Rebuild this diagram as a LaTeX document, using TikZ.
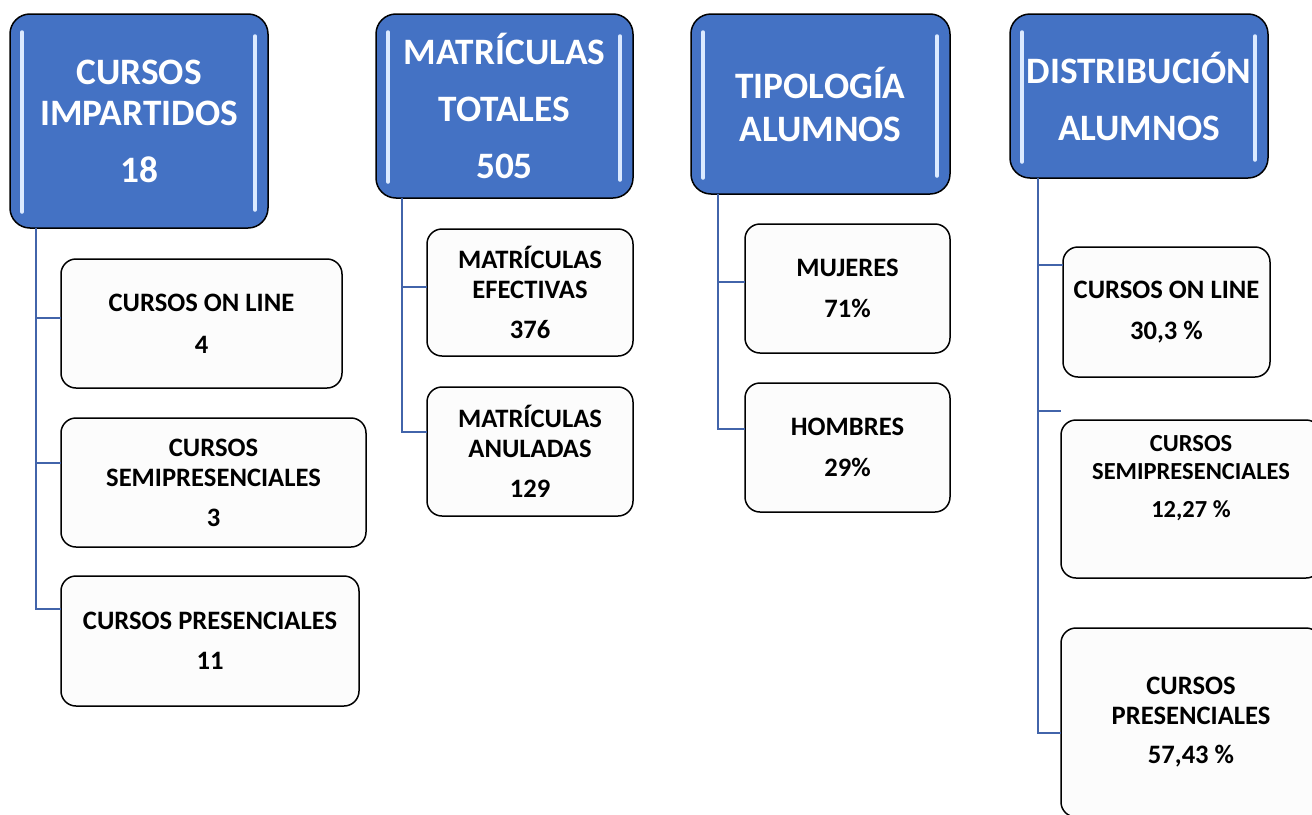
\documentclass[tikz,border=0pt]{standalone}
\usepackage{fontspec}
\setmainfont{Carlito}
\definecolor{hdrblue}{RGB}{68,114,196}
\definecolor{linkblue}{RGB}{66,100,170}
\definecolor{boxfill}{RGB}{252,252,252}
\definecolor{glintblue}{RGB}{220,234,255}
\begin{document}
\begin{tikzpicture}[x=1pt,y=-1pt,
    hdrbox/.style={draw=black, line width=1.5pt, rounded corners=20pt, fill=hdrblue, text=white,
      inner sep=0pt, outer sep=0pt, align=center, font=\fontsize{37.3}{41}\selectfont\bfseries},
    itembox/.style={draw=black, line width=1.5pt, rounded corners=15pt, fill=boxfill,
      inner sep=0pt, outer sep=0pt, align=center, font=\fontsize{26.6}{30}\selectfont\bfseries},
    link/.style={draw=linkblue, line width=2pt},
    glint/.style={draw=glintblue, line width=3.5pt, line cap=round}]
    \clip (0,0) rectangle (1312,814);
    \fill[white] (0,0) rectangle (1312,814);

    % cabeceras
    \node[hdrbox, minimum width=258pt, minimum height=214pt] (cursos) at (139,121) {CURSOS\\IMPARTIDOS\\[16pt]18};
    \node[hdrbox, minimum width=257pt, minimum height=184pt] (matric) at (504.5,106) {MATRÍCULAS\\[16pt]TOTALES\\[16pt]505};
    \node[hdrbox, minimum width=259pt, minimum height=180pt] (tipo) at (820.5,104) {TIPOLOGÍA\\[2pt]ALUMNOS};
    \node[hdrbox, minimum width=258pt, minimum height=164pt] (distr) at (1139,96) {DISTRIBUCIÓN\\[16pt]ALUMNOS};
    \foreach \h in {cursos,matric,tipo,distr} {
        \draw[glint] ([xshift=12pt,yshift=-18pt]\h.north west) -- ([xshift=12pt,yshift=16pt]\h.south west);
        \draw[glint] ([xshift=-13pt,yshift=-22pt]\h.north east) -- ([xshift=-13pt,yshift=18pt]\h.south east);
    }

    % cursos impartidos
    \node[itembox, minimum width=281pt, minimum height=129pt] (online) at (201.5,323.5) {CURSOS ON LINE\\[12pt]4};
    \node[itembox, minimum width=305pt, minimum height=129pt] (semi) at (213.5,482.5) {CURSOS\\SEMIPRESENCIALES\\[10pt]3};
    \node[itembox, minimum width=298pt, minimum height=130pt] (pres) at (210,641) {CURSOS PRESENCIALES\\[10pt]11};

    % matriculas
    \node[itembox, minimum width=206pt, minimum height=127pt] (efect) at (530,292.5) {MATRÍCULAS\\EFECTIVAS\\[10pt]376};
    \node[itembox, minimum width=206pt, minimum height=129pt] (anul) at (530,451.5) {MATRÍCULAS\\ANULADAS\\[10pt]129};

    % tipologia
    \node[itembox, minimum width=205pt, minimum height=129pt] (mujer) at (847.5,288.5) {MUJERES\\[11pt]71\%};
    \node[itembox, minimum width=205pt, minimum height=129pt] (hombre) at (847.5,447.5) {HOMBRES\\[11pt]29\%};

    % distribucion
    \node[itembox, minimum width=207pt, minimum height=130pt] (donline) at (1166.5,312) {CURSOS ON LINE\\[11pt]30,3 \%};
    \node[itembox, minimum width=260pt, minimum height=158pt] (dsemi) at (1191,499) {};
    \node[align=center, font=\fontsize{24.5}{28}\selectfont\bfseries] (dsemitxt) at ([yshift=21pt]dsemi.center) {CURSOS\\SEMIPRESENCIALES\\[10pt]12,27 \%};
    \node[itembox, minimum width=260pt, minimum height=189pt] (dpres) at (1191,722.5) {CURSOS\\PRESENCIALES\\[9pt]57,43 \%};

    % conectores
    \draw[link] ([xshift=26pt]cursos.south west) |- ([yshift=5.5pt]online.west);
    \draw[link] ([xshift=26pt]cursos.south west) |- ([yshift=19.5pt]semi.west);
    \draw[link] ([xshift=26pt]cursos.south west) |- ([yshift=32pt]pres.west);
    \draw[link] ([xshift=26pt]matric.south west) |- ([yshift=5.5pt]efect.west);
    \draw[link] ([xshift=26pt]matric.south west) |- ([yshift=19.5pt]anul.west);
    \draw[link] ([xshift=27pt]tipo.south west) |- ([yshift=6.5pt]mujer.west);
    \draw[link] ([xshift=27pt]tipo.south west) |- ([yshift=18.5pt]hombre.west);
    \draw[link] ([xshift=28pt]distr.south west) |- ([yshift=47pt]donline.west);
    \draw[link] ([xshift=28pt]distr.south west) |- ([yshift=9pt]dsemi.north west);
    \draw[link] ([xshift=28pt]distr.south west) |- ([yshift=-10.5pt]dpres.west);
\end{tikzpicture}
\end{document}
